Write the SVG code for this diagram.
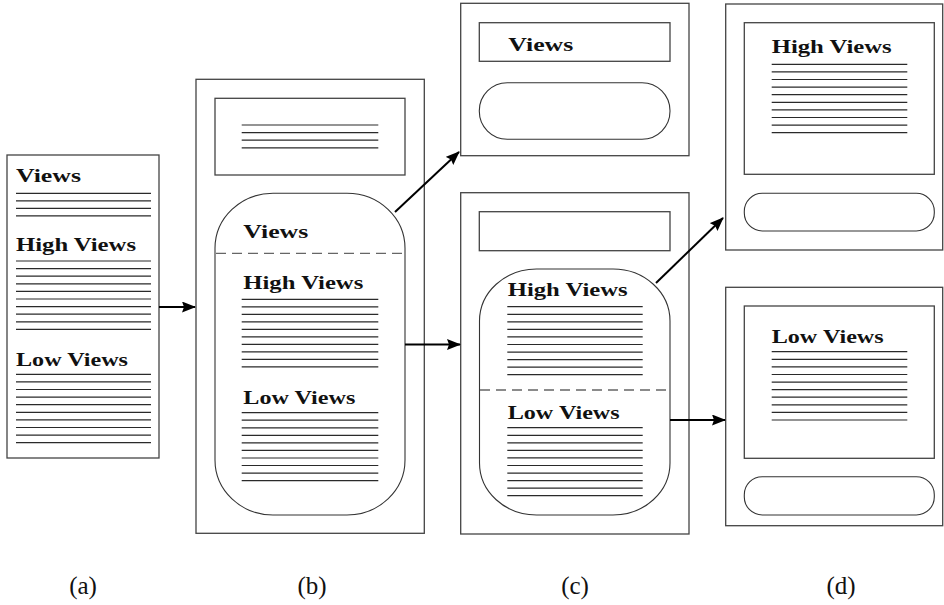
<svg xmlns="http://www.w3.org/2000/svg" width="944" height="605" viewBox="0 0 944 605">
<style>
.box{fill:none;stroke:#444;stroke-width:1.3}
.pill{fill:none;stroke:#333;stroke-width:1.1}
.ln{fill:none;stroke:#2a2a2a;stroke-width:1.2}
.dash{fill:none;stroke:#666;stroke-width:1.3;stroke-dasharray:10 6}
.t{font-family:"Liberation Serif","DejaVu Serif",serif;font-weight:bold;font-size:18px;fill:#111}
.lab{font-family:"Liberation Serif","DejaVu Serif",serif;font-size:25px;fill:#111}
.arr{fill:none;stroke:#000;stroke-width:2}
</style>
<defs>
<marker id="ah" viewBox="0 0 14 11" refX="13" refY="5.5" markerWidth="14" markerHeight="11" markerUnits="userSpaceOnUse" orient="auto">
<path d="M0,0 L14,5.5 L0,11 L2,5.5 z" fill="#000"/>
</marker>
</defs>
<rect width="944" height="605" fill="#fff"/>

<g id="panel-a">
<rect class="box" x="7" y="155" width="152" height="303"/>
<text class="t" x="16" y="182" textLength="65" lengthAdjust="spacingAndGlyphs">Views</text>
<path class="ln" d="M16 193.3H151M16 200.8H151M16 208.3H151M16 215.8H151"/>
<text class="t" x="16" y="250.7" textLength="120" lengthAdjust="spacingAndGlyphs">High Views</text>
<path class="ln" d="M16 261H151M16 268.6H151M16 276.2H151M16 283.8H151M16 291.4H151M16 299H151M16 306.6H151M16 314.2H151M16 321.8H151M16 329.4H151"/>
<text class="t" x="16" y="365.7" textLength="112" lengthAdjust="spacingAndGlyphs">Low Views</text>
<path class="ln" d="M16 374.3H151M16 381.9H151M16 389.5H151M16 397.1H151M16 404.7H151M16 412.3H151M16 419.9H151M16 427.5H151M16 435.1H151M16 442.7H151"/>
</g>

<g id="panel-b">
<rect class="box" x="196" y="79.3" width="228.3" height="454"/>
<rect class="box" x="215" y="98.3" width="190" height="76.7"/>
<path class="ln" d="M241.7 125H378.3M241.7 132.6H378.3M241.7 140.2H378.3M241.7 147.8H378.3"/>
<rect class="pill" x="215" y="193.3" width="190" height="321.7" rx="58" ry="55"/>
<text class="t" x="243.3" y="238.3" textLength="65" lengthAdjust="spacingAndGlyphs">Views</text>
<line class="dash" x1="216" y1="253.3" x2="404" y2="253.3"/>
<text class="t" x="243.3" y="289" textLength="120" lengthAdjust="spacingAndGlyphs">High Views</text>
<path class="ln" d="M241.7 299.3H378.3M241.7 306.8H378.3M241.7 314.3H378.3M241.7 321.8H378.3M241.7 329.3H378.3M241.7 336.8H378.3M241.7 344.3H378.3M241.7 351.8H378.3M241.7 359.3H378.3M241.7 366.8H378.3"/>
<text class="t" x="243.3" y="404" textLength="112" lengthAdjust="spacingAndGlyphs">Low Views</text>
<path class="ln" d="M241.7 412.7H378.3M241.7 420.2H378.3M241.7 427.8H378.3M241.7 435.3H378.3M241.7 442.9H378.3M241.7 450.4H378.3M241.7 458H378.3M241.7 465.5H378.3M241.7 473.1H378.3M241.7 480.6H378.3"/>
</g>

<g id="panel-c-top">
<rect class="box" x="460.7" y="3.3" width="228.3" height="152.4"/>
<rect class="box" x="479.3" y="22.7" width="190.7" height="38.6"/>
<text class="t" x="508.3" y="50.7" textLength="65" lengthAdjust="spacingAndGlyphs">Views</text>
<rect class="pill" x="479.3" y="82.7" width="190.7" height="56.6" rx="28" ry="28"/>
</g>

<g id="panel-c-bottom">
<rect class="box" x="460.7" y="192.7" width="228.3" height="341.3"/>
<rect class="box" x="479.3" y="211.7" width="190.7" height="39"/>
<rect class="pill" x="479.5" y="269" width="190.5" height="246" rx="57" ry="52"/>
<text class="t" x="507.7" y="296" textLength="120" lengthAdjust="spacingAndGlyphs">High Views</text>
<path class="ln" d="M507.3 306.7H642.7M507.3 314.3H642.7M507.3 321.8H642.7M507.3 329.4H642.7M507.3 336.9H642.7M507.3 344.5H642.7M507.3 352.1H642.7M507.3 359.6H642.7M507.3 367.2H642.7M507.3 374.7H642.7"/>
<line class="dash" x1="480" y1="390" x2="669" y2="390"/>
<text class="t" x="507.7" y="419" textLength="112" lengthAdjust="spacingAndGlyphs">Low Views</text>
<path class="ln" d="M507.3 427.7H642.7M507.3 435.3H642.7M507.3 442.8H642.7M507.3 450.4H642.7M507.3 457.9H642.7M507.3 465.5H642.7M507.3 473.1H642.7M507.3 480.6H642.7M507.3 488.2H642.7M507.3 495.7H642.7"/>
</g>

<g id="panel-d-top">
<rect class="box" x="725.7" y="4" width="217" height="246"/>
<rect class="box" x="744.3" y="22.7" width="190" height="151.6"/>
<text class="t" x="771.7" y="53.3" textLength="120" lengthAdjust="spacingAndGlyphs">High Views</text>
<path class="ln" d="M771.7 64.3H907.3M771.7 71.9H907.3M771.7 79.5H907.3M771.7 87.1H907.3M771.7 94.7H907.3M771.7 102.3H907.3M771.7 109.9H907.3M771.7 117.5H907.3M771.7 125.1H907.3M771.7 132.7H907.3"/>
<rect class="pill" x="744.3" y="193.3" width="190" height="37.7" rx="18" ry="18"/>
</g>

<g id="panel-d-bottom">
<rect class="box" x="725.7" y="287.3" width="217" height="238.4"/>
<rect class="box" x="744.3" y="306" width="190" height="152.3"/>
<text class="t" x="771.7" y="343.3" textLength="112" lengthAdjust="spacingAndGlyphs">Low Views</text>
<path class="ln" d="M771.7 351.7H907.3M771.7 359.3H907.3M771.7 366.9H907.3M771.7 374.5H907.3M771.7 382.1H907.3M771.7 389.6H907.3M771.7 397.2H907.3M771.7 404.8H907.3M771.7 412.4H907.3M771.7 420H907.3"/>
<rect class="pill" x="744.3" y="476.7" width="190" height="38.3" rx="18" ry="18"/>
</g>

<g id="connectors">
<line class="arr" x1="159" y1="307" x2="195" y2="307" marker-end="url(#ah)"/>
<line class="arr" x1="395" y1="212" x2="459" y2="152" marker-end="url(#ah)"/>
<line class="arr" x1="405" y1="344.5" x2="460" y2="344.5" marker-end="url(#ah)"/>
<line class="arr" x1="656" y1="283" x2="723" y2="218" marker-end="url(#ah)"/>
<line class="arr" x1="670" y1="420" x2="725" y2="420" marker-end="url(#ah)"/>
</g>

<g id="labels">
<text class="lab" x="83" y="594" text-anchor="middle">(a)</text>
<text class="lab" x="312" y="594" text-anchor="middle">(b)</text>
<text class="lab" x="575" y="594" text-anchor="middle">(c)</text>
<text class="lab" x="841" y="594" text-anchor="middle">(d)</text>
</g>
</svg>
